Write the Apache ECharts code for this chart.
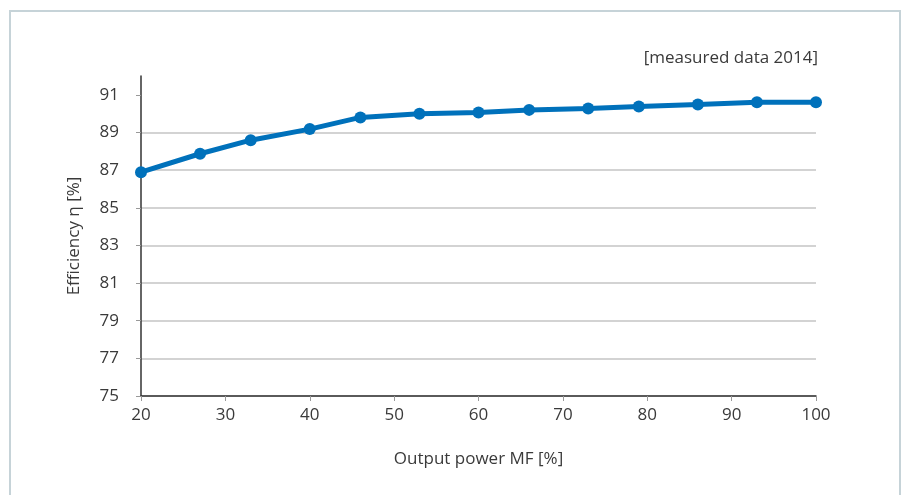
<!DOCTYPE html>
<html>
<head>
<meta charset="utf-8">
<script src="https://cdn.jsdelivr.net/npm/echarts@6/dist/echarts.min.js"></script>
<style>
html,body{margin:0;padding:0;background:#fff;}
#chart{width:907px;height:495px;}
</style>
</head>
<body>
<div id="chart"></div>
<script>
var outputPower = [20, 27, 33, 40, 46, 53, 60, 66, 73, 79, 86, 93, 100];
var efficiency = [86.89, 87.87, 88.59, 89.18, 89.80, 89.99, 90.06, 90.20, 90.27, 90.38, 90.49, 90.61, 90.61];
var xTicks = [20, 30, 40, 50, 60, 70, 80, 90, 100];
var yTicks = [75, 77, 79, 81, 83, 85, 87, 89, 91];
var noteText = '[measured data 2014]';
var xName = 'Output power MF [%]';
var yName = 'Efficiency η [%]';

var chart = echarts.init(document.getElementById('chart'));
var textColor = '#3a3a3a';
var font = 'Open Sans';
chart.setOption({
  animation: false,
  graphic: [
    {type: 'rect', shape: {x: 10, y: 11, width: 890, height: 500},
     style: {fill: 'none', stroke: '#c6d3d8', lineWidth: 2}, silent: true},
    {type: 'text', right: 89, top: 50,
     style: {text: noteText, fill: textColor, font: '17px "Open Sans"', textAlign: 'right'}}
  ],
  grid: {left: 141, right: 91, top: 76, bottom: 99},
  xAxis: {
    type: 'value', min: 20, max: 100, interval: 10,
    name: xName, nameLocation: 'middle', nameGap: 55,
    nameTextStyle: {color: textColor, fontSize: 17, fontFamily: font},
    axisLine: {show: true, lineStyle: {color: '#333', width: 1.5}},
    axisTick: {show: true, length: 5, lineStyle: {color: '#999', width: 1}, customValues: xTicks},
    axisLabel: {color: textColor, fontSize: 17, fontFamily: font, margin: 11, customValues: xTicks},
    splitLine: {show: false}
  },
  yAxis: {
    type: 'value', min: 75, max: 92, interval: 2,
    name: yName, nameLocation: 'middle', nameGap: 58, nameRotate: 90,
    nameTextStyle: {color: textColor, fontSize: 17, fontFamily: font},
    axisLine: {show: true, lineStyle: {color: '#333', width: 1.5}},
    axisTick: {show: true, length: 5, lineStyle: {color: '#999', width: 1}, customValues: yTicks},
    axisLabel: {color: textColor, fontSize: 17, fontFamily: font, margin: 22, customValues: yTicks},
    splitLine: {show: true, showMaxLine: false, lineStyle: {color: '#c4c4c4', width: 1.5}}
  },
  series: [{
    type: 'line',
    data: outputPower.map(function (x, i) { return [x, efficiency[i]]; }),
    lineStyle: {color: '#0071bb', width: 5},
    itemStyle: {color: '#0071bb'},
    symbol: 'circle', symbolSize: 12,
    showSymbol: true
  }]
});
</script>
</body>
</html>
